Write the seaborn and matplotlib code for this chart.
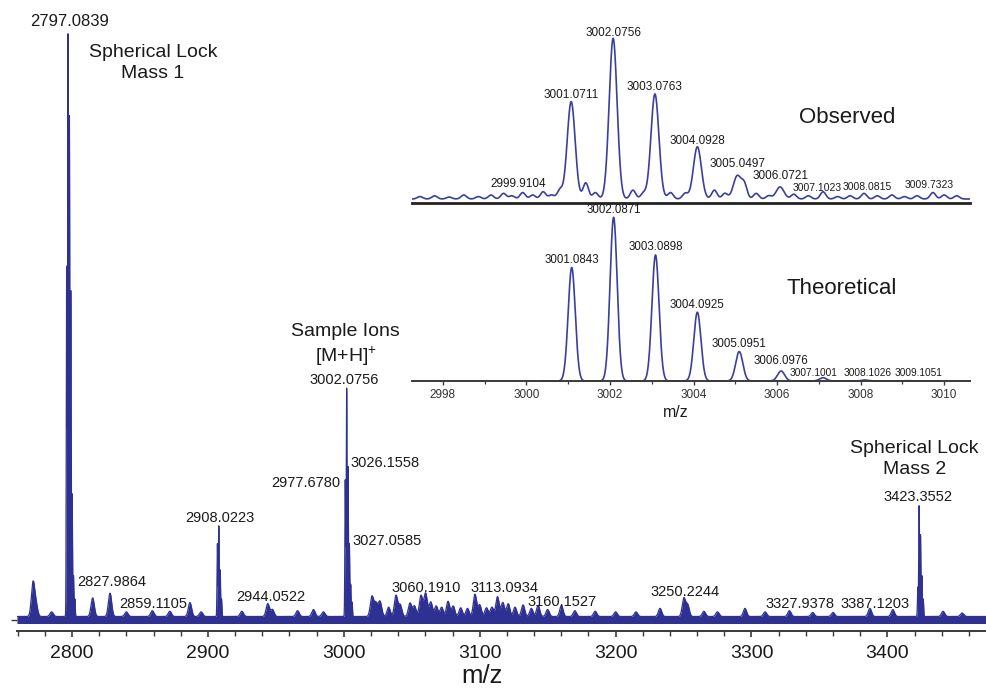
import numpy as np
import pandas as pd
import matplotlib
matplotlib.use("Agg")
import matplotlib.pyplot as plt
import seaborn as sns

# ---------------- full-range spectrum (m/z, relative intensity %) ----------------
lock1_mz = [2796.10, 2797.0839, 2798.08, 2799.08, 2800.10, 2801.10, 2802.10]
lock1_int = [60.0, 100.0, 86.0, 56.0, 21.0, 7.0, 3.0]
ion2908_mz = [2907.00, 2908.0223, 2909.02, 2910.02]
ion2908_int = [12.5, 15.6, 8.0, 3.0]
sample_mz = [3001.0711, 3002.0756, 3003.0763, 3004.0928, 3005.0497, 3006.0721]
sample_int = [23.5, 39.3, 25.8, 12.5, 5.5, 2.5]
lock2_mz = [3422.40, 3423.3552, 3424.36, 3425.36, 3426.40]
lock2_int = [5.0, 19.0, 14.0, 7.0, 3.0]

# smaller, unresolved signals along the baseline
minor_mz = [2771.3, 2773.5, 2785.0, 2815.2, 2827.9864, 2840.0, 2859.1105, 2872.0, 2886.8, 2895.0,
            2925.0, 2944.0522, 2947.5, 2966.0, 2977.6780, 2985.0, 3020.7, 3023.5, 3026.1558, 3027.0585,
            3033.0, 3038.4, 3041.5, 3048.7, 3052.0, 3056.8, 3060.1910, 3064.0, 3068.0, 3072.0,
            3076.7, 3080.5, 3086.0, 3091.0, 3096.5, 3100.0, 3105.0, 3109.0, 3113.0934, 3117.0,
            3121.0, 3126.0, 3131.9, 3138.0, 3143.0, 3150.0, 3160.1527, 3170.0, 3185.0, 3200.0,
            3215.0, 3232.7, 3250.2244, 3253.0, 3265.0, 3275.0, 3295.2, 3310.0, 3327.9378, 3345.0,
            3360.0, 3387.1203, 3404.0, 3441.0, 3455.0]
minor_int = [5.7, 2.0, 0.8, 3.2, 4.0, 0.8, 1.0, 0.9, 2.4, 0.8,
             0.9, 2.2, 1.2, 1.0, 1.2, 0.8, 3.4, 2.2, 1.5, 1.3,
             1.6, 3.6, 2.0, 2.3, 1.8, 3.6, 4.0, 2.5, 1.8, 1.6,
             2.6, 1.8, 1.5, 1.4, 3.8, 2.0, 1.5, 1.6, 3.4, 2.4,
             2.2, 1.6, 2.0, 1.4, 1.9, 1.2, 1.9, 1.0, 0.9, 0.8,
             0.8, 1.4, 3.1, 2.0, 0.9, 0.8, 1.4, 0.8, 1.0, 0.7,
             0.7, 1.4, 1.2, 0.9, 0.6]

main_ticks = [2800, 2900, 3000, 3100, 3200, 3300, 3400]

# ---------------- zoomed isotope envelope ----------------
obs_mz = [3001.0711, 3002.0756, 3003.0763, 3004.0928, 3005.0497, 3006.0721]
obs_int = [60.6, 100.0, 65.4, 32.5, 14.5, 7.5]
obs_minor_mz = [2997.45, 2997.80, 2998.15, 2998.50, 2998.85, 2999.15, 2999.45, 2999.65, 2999.9104, 3000.15,
                3000.40, 3000.60, 3000.80, 3001.42, 3001.65, 3002.55, 3002.80, 3003.45, 3003.80, 3004.50,
                3004.75, 3005.22, 3005.50, 3005.80, 3006.40, 3006.75, 3007.1023, 3007.45, 3007.75, 3008.0815,
                3008.40, 3008.75, 3009.05, 3009.35, 3009.7323, 3010.00, 3010.30]
obs_minor_int = [1.5, 2.0, 1.2, 2.5, 1.5, 2.5, 3.5, 2.0, 4.0, 2.5,
                 4.5, 2.5, 5.5, 10.0, 4.0, 5.5, 3.5, 4.0, 3.5, 5.5,
                 3.5, 8.0, 3.5, 2.0, 3.0, 2.0, 4.5, 1.5, 2.0, 3.5,
                 2.0, 2.5, 1.5, 2.0, 4.0, 2.5, 2.0]
theo_mz = [3001.0843, 3002.0871, 3003.0898, 3004.0925, 3005.0951, 3006.0976, 3007.1001, 3008.1026, 3009.1051]
theo_int = [69.3, 100.0, 77.0, 42.0, 18.0, 6.1, 2.0, 0.6, 0.2]
inset_ticks = [2998, 3000, 3002, 3004, 3006, 3008, 3010]

NAVY = "#2E3192"
TRACE = "#3A3F9E"
INK = "#1a1a1a"
AXIS = "#3a3a3a"

sns.set_theme(style="ticks")
plt.rcParams["font.family"] = ["Liberation Sans", "DejaVu Sans"]
plt.rcParams["mathtext.fontset"] = "custom"
plt.rcParams["mathtext.rm"] = "Liberation Sans"
plt.rcParams["mathtext.it"] = "Liberation Sans:italic"
plt.rcParams["mathtext.bf"] = "Liberation Sans:bold"

W, H = 987, 688
fig = plt.figure(figsize=(W / 100, H / 100), dpi=100)


def box(x0, y_top, x1, y_bottom):
    return [x0 / W, 1 - y_bottom / H, (x1 - x0) / W, (y_bottom - y_top) / H]


def profile(grid, mz, inten, sigma):
    c = np.asarray(mz, float)[:, None]
    a = np.asarray(inten, float)[:, None]
    return (a * np.exp(-0.5 * ((grid[None, :] - c) / sigma) ** 2)).sum(axis=0)


def tag(axis, text, mz, inten, dx, dy, size, ha="center", spacing=1.2):
    axis.annotate(text, xy=(mz, inten), xytext=(dx * 0.72, dy * 0.72),
                  textcoords="offset points", ha=ha, va="center",
                  fontsize=size, color=INK, annotation_clip=False,
                  linespacing=spacing)


# ---------------- main spectrum ----------------
ax = fig.add_axes(box(17, 10, 987, 631))
ax.set_facecolor("none")
grid = np.arange(2759.5, 3473.3, 0.05)
resolved_mz = lock1_mz + ion2908_mz + sample_mz + lock2_mz
resolved_int = lock1_int + ion2908_int + sample_int + lock2_int
signal = (profile(grid, resolved_mz, resolved_int, 0.28)
          + profile(grid, minor_mz, minor_int, 1.2) + 0.6)
spec = pd.DataFrame({"mz": grid, "intensity": signal})
ax.fill_between(spec["mz"], -0.6, spec["intensity"], color=NAVY, lw=0)
sns.lineplot(data=spec, x="mz", y="intensity", ax=ax, color=NAVY, lw=0.9,
             estimator=None, sort=False)

ax.set_xlim(2759.53, 3473.3)
ax.set_ylim(-1.89, 104.81)
sns.despine(ax=ax, left=True)
ax.spines["bottom"].set_color(AXIS)
ax.spines["bottom"].set_linewidth(1.4)
ax.set_xticks(main_ticks)
ax.set_xticks(np.arange(2760, 3480, 20), minor=True)
ax.tick_params(axis="x", which="major", length=4, width=1.2, color=AXIS,
               labelsize=14, labelcolor=INK, pad=6)
ax.tick_params(axis="x", which="minor", length=3.5, width=1.0, color=AXIS)
ax.set_yticks([0])
ax.set_yticklabels([])
ax.tick_params(axis="y", length=4, width=1.0, color=AXIS)
ax.set_xlabel("m/z", fontsize=18.5, color=INK)
ax.xaxis.set_label_coords(0.479, -0.053)
ax.set_ylabel("")

lookup = dict(zip(resolved_mz + minor_mz, resolved_int + minor_int))

main_label_mz = [2797.0839, 2827.9864, 2859.1105, 2908.0223, 2944.0522, 3002.0756,
                 3060.1910, 3113.0934, 3160.1527, 3250.2244, 3327.9378, 3387.1203, 3423.3552]
main_label_off = [(2, 16), (2, 15), (1, 10), (1, 11), (3, 10), (-2, 11),
                  (1, 9), (7, 12), (1, 7), (1, 10), (11, 10), (5, 8), (-1, 12)]
for m, (dx, dy) in zip(main_label_mz, main_label_off):
    tag(ax, f"{m:.4f}", m, lookup[m], dx, dy, 12 if m == 2797.0839 else 10.5)

# neighbouring assignments written beside the sample-ion cluster
tag(ax, f"{3026.1558:.4f}", sample_mz[2], sample_int[2], 2, 7, 10.5, ha="left")
tag(ax, f"{2977.6780:.4f}", sample_mz[0], sample_int[0], -5, 0, 10.5, ha="right")
tag(ax, f"{3027.0585:.4f}", sample_mz[3], sample_int[3], 3, 6.5, 10.5, ha="left")

tag(ax, "Spherical Lock\nMass 1", lock1_mz[1], lock1_int[1], 85, -25, 14, spacing=1.3)
tag(ax, "Sample Ions\n[M+H]$^{+}$", sample_mz[1], sample_int[1], -1, 46, 14, spacing=1.3)
tag(ax, "Spherical Lock\nMass 2", lock2_mz[1], lock2_int[1], -5, 50, 14, spacing=1.3)

# ---------------- observed isotope envelope ----------------
xlo, xhi = 2997.26, 3010.62
obs_ax = fig.add_axes(box(412, 20, 970, 203))
obs_ax.set_facecolor("none")
g_obs = np.arange(xlo, xhi, 0.005)
obs_sig = profile(g_obs, obs_mz, obs_int, 0.095) + profile(g_obs, obs_minor_mz, obs_minor_int, 0.065)
obs_df = pd.DataFrame({"mz": g_obs, "intensity": obs_sig})
sns.lineplot(data=obs_df, x="mz", y="intensity", ax=obs_ax, color=TRACE, lw=1.2,
             estimator=None, sort=False)
obs_ax.set_xlim(xlo, xhi)
obs_ax.set_ylim(-2.49, 111.4)
sns.despine(ax=obs_ax, left=True)
obs_ax.spines["bottom"].set_color("#222222")
obs_ax.spines["bottom"].set_linewidth(2.0)
obs_ax.set_xticks([])
obs_ax.set_yticks([])
obs_ax.set_xlabel("")
obs_ax.set_ylabel("")

obs_lookup = dict(zip(obs_mz + obs_minor_mz, obs_int + obs_minor_int))
obs_label_mz = [2999.9104, 3001.0711, 3002.0756, 3003.0763, 3004.0928, 3005.0497,
                3006.0721, 3007.1023, 3008.0815, 3009.7323]
obs_label_off = [(-4, 8.5), (0, 6.6), (0, 5.5), (0, 6.6), (0, 6), (0, 11.7),
                 (0, 11), (-6, 3.5), (3, 6.5), (-4, 7.6)]
for m, (dx, dy) in zip(obs_label_mz, obs_label_off):
    tag(obs_ax, f"{m:.4f}", m, obs_lookup[m], dx, dy, 8.5 if m < 3006.5 else 7.5)
obs_ax.text(0.7796, 0.4645, "Observed", transform=obs_ax.transAxes, ha="center",
            va="center", fontsize=16, color=INK)

# ---------------- theoretical isotope envelope ----------------
theo_ax = fig.add_axes(box(412, 206, 970, 381))
theo_ax.set_facecolor("none")
g_theo = np.arange(3000.37, 3009.87, 0.005)
theo_df = pd.DataFrame({"mz": g_theo, "intensity": profile(g_theo, theo_mz, theo_int, 0.085)})
sns.lineplot(data=theo_df, x="mz", y="intensity", ax=theo_ax, color=TRACE, lw=1.2,
             estimator=None, sort=False, clip_on=False)
theo_ax.set_xlim(xlo, xhi)
theo_ax.set_ylim(0, 106.9)
sns.despine(ax=theo_ax, left=True)
theo_ax.spines["bottom"].set_color(AXIS)
theo_ax.spines["bottom"].set_linewidth(1.4)
theo_ax.set_yticks([])
theo_ax.set_xticks(inset_ticks)
theo_ax.set_xticks(np.arange(2999, 3011, 2), minor=True)
theo_ax.tick_params(axis="x", which="major", length=3, width=1.0, color=AXIS,
                    labelsize=8.5, labelcolor="#333333", pad=3)
theo_ax.tick_params(axis="x", which="minor", length=2.5, width=0.9, color=AXIS)
theo_ax.set_xlabel("m/z", fontsize=11.5, color=INK)
theo_ax.xaxis.set_label_coords(0.473, -0.135)
theo_ax.set_ylabel("")

theo_label_off = [(0, 7.6), (0, 7.3), (0, 7.7), (0, 7), (0, 7.5), (0, 10),
                  (-9.5, 4.4), (3, 6.7), (12, 7.4)]
for m, v, (dx, dy) in zip(theo_mz, theo_int, theo_label_off):
    tag(theo_ax, f"{m:.4f}", m, v, dx, dy, 8.3 if m < 3006.5 else 7.3)
theo_ax.text(0.7697, 0.531, "Theoretical", transform=theo_ax.transAxes, ha="center",
             va="center", fontsize=16, color=INK)

fig.savefig("out.png", dpi=100)
